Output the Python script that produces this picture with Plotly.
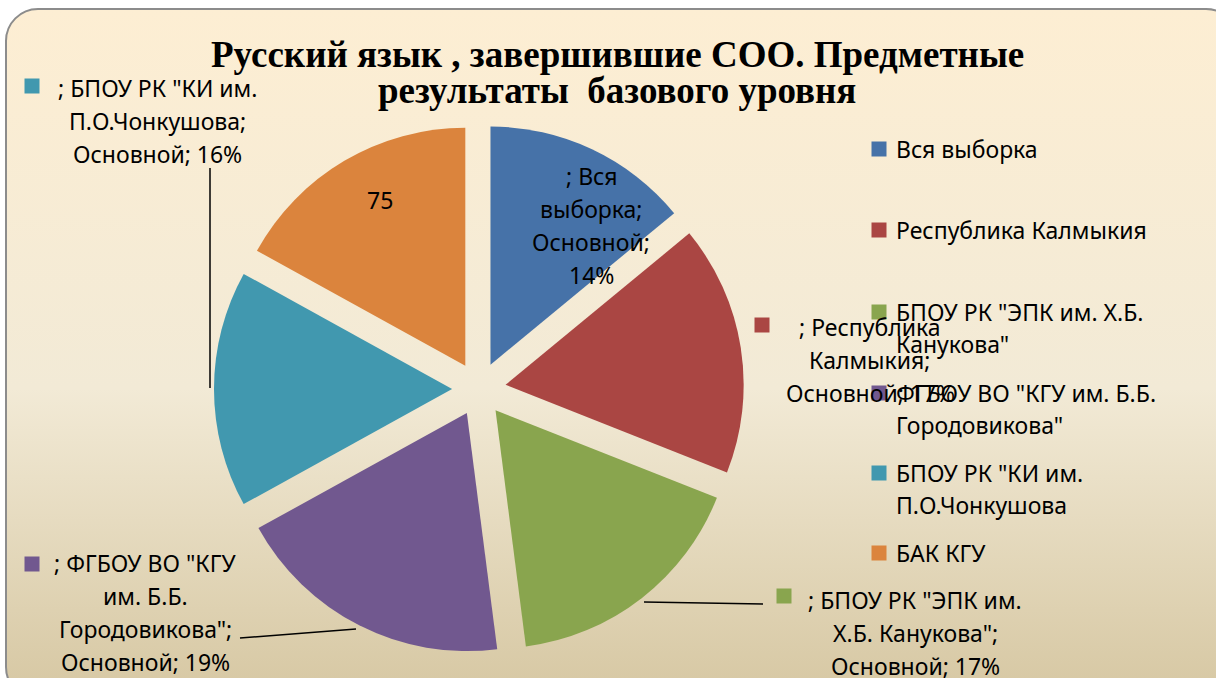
import base64
import plotly.graph_objects as go

W, H = 1216, 678

# ---------------- data ----------------
categories = [
    "Вся выборка",
    "Республика Калмыкия",
    'БПОУ РК "ЭПК им. Х.Б. Канукова"',
    'ФГБОУ ВО "КГУ им. Б.Б. Городовикова"',
    'БПОУ РК "КИ им. П.О.Чонкушова',
    "БАК КГУ",
]
values = [62, 75, 75, 84, 71, 75]
colors = ["#4672A8", "#AA4643", "#89A54E", "#71588F", "#4198AF", "#DB843D"]

legend_lines = [
    ["Вся выборка"],
    ["Республика Калмыкия"],
    ['БПОУ РК "ЭПК им. Х.Б.', 'Канукова"'],
    ['ФГБОУ ВО "КГУ им. Б.Б.', 'Городовикова"'],
    ['БПОУ РК "КИ им.', "П.О.Чонкушова"],
    ["БАК КГУ"],
]

total = sum(values)
pcts = [f"{round(v / total * 100)}%" for v in values]
label_lines = [
    ["; Вся", "выборка;", "Основной;", pcts[0]],
    ["; Республика", "Калмыкия;", "Основной; " + pcts[1]],
    ['; БПОУ РК "ЭПК им.', 'Х.Б. Канукова";', "Основной; " + pcts[2]],
    ['; ФГБОУ ВО "КГУ', "им. Б.Б.", 'Городовикова";', "Основной; " + pcts[3]],
    ['; БПОУ РК "КИ им.', "П.О.Чонкушова;", "Основной; " + pcts[4]],
    [str(values[5])],
]

title_lines = ["Русский язык , завершившие СОО. Предметные", "результаты  базового уровня"]

# ---------------- layout constants (pixels) ----------------
FONT = "Noto Sans"
FS = 23
LINE = 33
PIE_CX, PIE_CY, PIE_HALF = 479, 389, 265
PULL = 0.113

TITLE_X, TITLE_Y, TITLE_LINE, TITLE_FS = 617, 54, 37, 37

label_pos = [(591, 176), (870, 327), (915, 600), (145, 563), (157, 88), (380, 200)]
label_keys = [None, (762, 325), (784, 596), (32, 564), (32, 86), None]
leaders = [None, None, ((644, 602), (763, 604)), ((240, 638), (356, 629)),
           ((210, 168), (210, 388)), None]
LEG_KEY_X, LEG_TEXT_X = 879, 894
legend_y = [149, 230, 312, 393, 473, 553]
KEY = 15


def px(x):
    return x / W


def py(y):
    return 1 - y / H


# ---------------- background ----------------
svg = f"""<svg xmlns='http://www.w3.org/2000/svg' width='{W}' height='{H}' viewBox='0 0 {W} {H}'>
<defs><linearGradient id='g' x1='0' y1='0' x2='0' y2='1'>
<stop offset='0' stop-color='#FDEED3'/><stop offset='0.55' stop-color='#F2EAD6'/>
<stop offset='1' stop-color='#D6C7A2'/></linearGradient></defs>
<rect x='0' y='0' width='{W}' height='{H}' fill='#FFFFFF'/>
<rect x='6' y='9' width='1232' height='690' rx='32' ry='32' fill='url(#g)' stroke='#8C8C8C' stroke-width='2'/>
</svg>"""
bg_uri = "data:image/svg+xml;base64," + base64.b64encode(svg.encode("utf-8")).decode()

fig = go.Figure()
fig.add_trace(go.Pie(
    labels=categories,
    values=values,
    marker=dict(colors=colors, line=dict(width=0)),
    sort=False,
    direction="clockwise",
    rotation=0,
    pull=[PULL] * len(values),
    textinfo="none",
    showlegend=False,
    domain=dict(x=[px(PIE_CX - PIE_HALF), px(PIE_CX + PIE_HALF)],
                y=[py(PIE_CY + PIE_HALF), py(PIE_CY - PIE_HALF)]),
))

annotations = []
shapes = []

# title
for j, t in enumerate(title_lines):
    annotations.append(dict(x=px(TITLE_X), y=py(TITLE_Y + j * TITLE_LINE), xref="paper", yref="paper",
                            text=f"<b>{t}</b>", showarrow=False, xanchor="center", yanchor="middle",
                            font=dict(family="Liberation Serif", size=TITLE_FS, color="#000000")))

# data labels
for i, lines in enumerate(label_lines):
    cx, cy = label_pos[i]
    for j, t in enumerate(lines):
        annotations.append(dict(x=px(cx), y=py(cy + j * LINE), xref="paper", yref="paper",
                                text=t, showarrow=False, xanchor="center", yanchor="middle",
                                font=dict(family=FONT, size=FS, color="#000000")))
    if label_keys[i]:
        kx, ky = label_keys[i]
        shapes.append(dict(type="rect", xref="paper", yref="paper",
                           x0=px(kx - KEY / 2), x1=px(kx + KEY / 2),
                           y0=py(ky + KEY / 2), y1=py(ky - KEY / 2),
                           fillcolor=colors[i], line=dict(width=0)))
    if leaders[i]:
        (x0, y0), (x1, y1) = leaders[i]
        shapes.append(dict(type="line", xref="paper", yref="paper",
                           x0=px(x0), y0=py(y0), x1=px(x1), y1=py(y1),
                           line=dict(color="#000000", width=1.5)))

# legend
for i, lines in enumerate(legend_lines):
    y0 = legend_y[i]
    shapes.append(dict(type="rect", xref="paper", yref="paper",
                       x0=px(LEG_KEY_X - KEY / 2), x1=px(LEG_KEY_X + KEY / 2),
                       y0=py(y0 + KEY / 2), y1=py(y0 - KEY / 2),
                       fillcolor=colors[i], line=dict(width=0)))
    for j, t in enumerate(lines):
        annotations.append(dict(x=px(LEG_TEXT_X), y=py(y0 + j * 32), xref="paper", yref="paper",
                                text=t, showarrow=False, xanchor="left", yanchor="middle",
                                font=dict(family=FONT, size=FS, color="#000000")))

fig.update_layout(
    width=W, height=H,
    margin=dict(l=0, r=0, t=0, b=0),
    paper_bgcolor="#FFFFFF",
    images=[dict(source=bg_uri, xref="paper", yref="paper", x=0, y=1, sizex=1, sizey=1,
                 xanchor="left", yanchor="top", sizing="stretch", layer="below")],
    annotations=annotations,
    shapes=shapes,
)

fig.write_html("out.html",
               config={"displayModeBar": False},
               post_script="document.body.style.margin='0';document.body.style.overflow='hidden';")
